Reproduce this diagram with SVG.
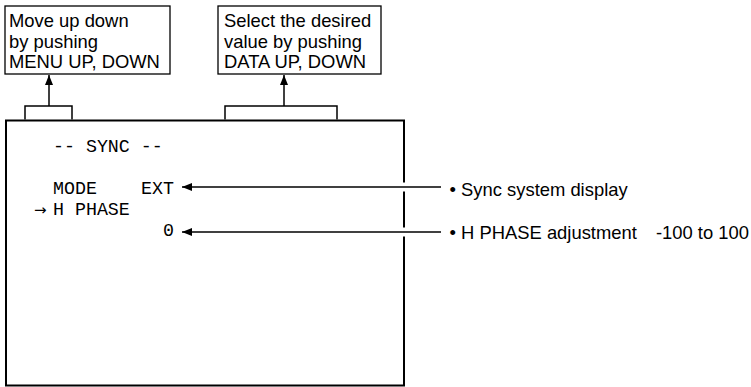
<svg xmlns="http://www.w3.org/2000/svg" width="751" height="387" viewBox="0 0 751 387">
<style>
.box{fill:#fff;stroke:#000;stroke-width:1.3}
.screen{fill:#fff;stroke:#000;stroke-width:2}
.sans{font-family:"Liberation Sans",Arial,sans-serif;font-size:18.4px;fill:#000}
.mono{font-family:"Liberation Mono","Courier New",monospace;font-size:18.3px;fill:#000}
.ln{fill:none;stroke:#000;stroke-width:1.5}
.halo{fill:none;stroke:#fff;stroke-width:9}
</style>
<defs>
<marker id="ah" viewBox="0 0 10 8" refX="10" refY="4" markerWidth="10" markerHeight="8" markerUnits="userSpaceOnUse" orient="auto">
<path d="M0,0 L10,4 L0,8 Z" fill="#000"/>
</marker>
</defs>
<g id="screen">
<rect class="screen" x="6" y="120.5" width="398" height="265"/>
<text class="mono" x="53" y="152">-- SYNC --</text>
<text class="mono" x="53" y="194">MODE</text>
<text class="mono" x="141" y="194">EXT</text>
<text x="34" y="215" style="font-family:'DejaVu Sans',sans-serif;font-size:15px">→</text>
<text class="mono" x="53" y="215">H PHASE</text>
<text class="mono" x="163" y="236">0</text>
</g>
<g id="note-menu">
<rect class="box" x="5" y="6" width="165" height="68"/>
<text class="sans" x="9" y="27">Move up down</text>
<text class="sans" x="9" y="47.5">by pushing</text>
<text class="sans" x="9" y="68">MENU UP, DOWN</text>
</g>
<g id="note-data">
<rect class="box" x="218" y="6" width="163" height="68"/>
<text class="sans" x="224" y="27">Select the desired</text>
<text class="sans" x="224" y="47.5">value by pushing</text>
<text class="sans" x="224" y="68">DATA UP, DOWN</text>
</g>
<g id="label-sync">
<text class="sans" x="449.5" y="196">• Sync system display</text>
</g>
<g id="label-hphase">
<text class="sans" x="449.5" y="239">• H PHASE adjustment</text>
<text class="sans" x="749" y="239" text-anchor="end">-100 to 100</text>
</g>
<g id="connectors">
<path class="ln" d="M25,119.5 V106 H72 V119.5"/>
<path class="ln" d="M49,106 V75" marker-end="url(#ah)"/>
<path class="ln" d="M225,119.5 V106 H337 V119.5"/>
<path class="ln" d="M284,106 V75" marker-end="url(#ah)"/>
<path class="halo" d="M398,187 H410 M398,232 H410"/>
<path class="ln" d="M441,187 H182" marker-end="url(#ah)"/>
<path class="ln" d="M441,232 H182" marker-end="url(#ah)"/>
</g>
</svg>
